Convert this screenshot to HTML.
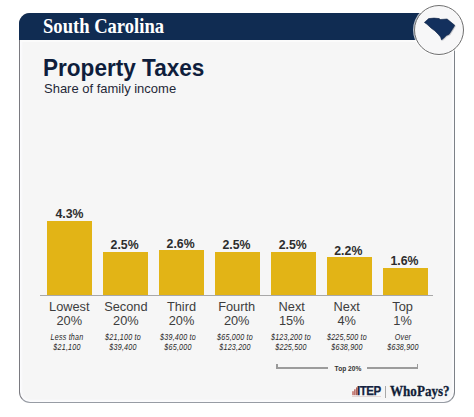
<!DOCTYPE html>
<html><head><meta charset="utf-8">
<style>
*{margin:0;padding:0;box-sizing:border-box}
html,body{width:474px;height:417px;overflow:hidden;background:#fff;font-family:"Liberation Sans",sans-serif}
#card{position:absolute;left:19px;top:13px;width:435.9px;height:390.3px;background:#f6f6f6;border-style:solid;border-color:#7a7a80 #7d8288 #979ca4 #7a7a80;border-width:1.3px 1.5px 1.8px 1.3px;border-radius:11px;box-shadow:inset 2px 0 2px #fbfbfd,inset -2px 0 2px #fbfbfd,inset 0 -2px 2px #fbfbfd}
#band{position:absolute;left:19px;top:13px;width:435.9px;height:26.6px;background:#102c52;border-radius:11px 11px 0 0}
#bandline{position:absolute;left:20.3px;top:39.6px;width:434px;height:2px;background:#fbfbfb}
#st{position:absolute;left:42.8px;top:13.6px;font-family:"Liberation Serif",serif;font-weight:bold;font-size:22px;line-height:24px;color:#fff;white-space:nowrap;transform:scaleX(0.845);transform-origin:0 0}
#title{position:absolute;left:43px;top:54px;font-weight:bold;font-size:24px;line-height:28px;color:#0f1e3c;white-space:nowrap;transform:scaleX(0.94);transform-origin:0 0}
#sub{position:absolute;left:44px;top:81px;font-size:13.4px;line-height:15px;color:#1f2838;white-space:nowrap;transform:scaleX(0.97);transform-origin:0 0}
#circle{position:absolute;left:414.1px;top:5.1px;width:50.4px;height:50.4px;border-radius:50%;background:#f7f7f8;border:1.3px solid #707070;box-shadow:0 0 0 1px rgba(255,255,255,0.7)}
.bar{position:absolute;width:45px;background:#e2b416}
.val{position:absolute;width:56px;text-align:center;font-weight:bold;font-size:12.3px;line-height:14px;color:#2d2d2d;white-space:nowrap}
.cat{position:absolute;width:56px;text-align:center;font-size:12.8px;line-height:14px;color:#3d3d3d;white-space:nowrap}
.rng{position:absolute;width:70px;text-align:center;font-style:italic;font-size:8.6px;line-height:9.8px;color:#262626;white-space:nowrap;letter-spacing:0.25px;transform:scaleX(0.83)}
#axis{position:absolute;left:40.4px;top:294.9px;width:393px;height:0.8px;background:#a8a8a8}
</style></head><body>
<div id="card"></div>
<div id="band"></div>
<div id="bandline"></div>
<div id="st">South Carolina</div>
<div id="circle"></div>
<svg style="position:absolute;left:0;top:0" width="474" height="60">
  <path d="M424.4,22.4 L428.7,18.6 L434,18.1 L439.3,18.6 L440.2,19.5 L447.1,19 L454.8,25.3 L452.4,29.3 L449.2,34.2 L446.3,35.6 L443.9,38 L441.5,39.9 L440.6,37 L438.2,34.2 L434.8,30.8 L431,27.9 L426.8,24.1 Z" transform="translate(1,1)" fill="#b0b4bb" opacity="0.7"/>
  <path d="M424.4,22.4 L428.7,18.6 L434,18.1 L439.3,18.6 L440.2,19.5 L447.1,19 L454.8,25.3 L452.4,29.3 L449.2,34.2 L446.3,35.6 L443.9,38 L441.5,39.9 L440.6,37 L438.2,34.2 L434.8,30.8 L431,27.9 L426.8,24.1 Z" fill="#13305d" stroke="#0d2145" stroke-width="0.6" stroke-linejoin="round"/>
</svg>
<div id="title">Property Taxes</div>
<div id="sub">Share of family income</div>

<div class="bar" style="left:47.2px;top:220.8px;height:74.8px"></div>
<div class="bar" style="left:103.2px;top:252.1px;height:43.5px"></div>
<div class="bar" style="left:159.2px;top:250.4px;height:45.2px"></div>
<div class="bar" style="left:215.2px;top:252.1px;height:43.5px"></div>
<div class="bar" style="left:271.2px;top:252.1px;height:43.5px"></div>
<div class="bar" style="left:327.2px;top:257.3px;height:38.3px"></div>
<div class="bar" style="left:383.2px;top:267.8px;height:27.8px"></div>

<div id="axis"></div>
<div class="val" style="left:41.50px;top:207.00px">4.3%</div>
<div class="val" style="left:96.60px;top:238.30px">2.5%</div>
<div class="val" style="left:152.60px;top:236.60px">2.6%</div>
<div class="val" style="left:208.50px;top:238.30px">2.5%</div>
<div class="val" style="left:264.70px;top:238.30px">2.5%</div>
<div class="val" style="left:320.30px;top:243.50px">2.2%</div>
<div class="val" style="left:376.40px;top:254.00px">1.6%</div>

<div class="cat" style="left:41.30px;top:300.00px">Lowest<br>20%</div>
<div class="cat" style="left:97.90px;top:300.00px">Second<br>20%</div>
<div class="cat" style="left:153.50px;top:300.00px">Third<br>20%</div>
<div class="cat" style="left:208.70px;top:300.00px">Fourth<br>20%</div>
<div class="cat" style="left:263.70px;top:300.00px">Next<br>15%</div>
<div class="cat" style="left:318.70px;top:300.00px">Next<br>4%</div>
<div class="cat" style="left:374.60px;top:300.00px">Top<br>1%</div>

<div class="rng" style="left:31.60px;top:332.9px">Less than<br>$21,100</div>
<div class="rng" style="left:87.75px;top:332.9px">$21,100 to<br>$39,400</div>
<div class="rng" style="left:143.00px;top:332.9px">$39,400 to<br>$65,000</div>
<div class="rng" style="left:199.80px;top:332.9px">$65,000 to<br>$123,200</div>
<div class="rng" style="left:255.60px;top:332.9px">$123,200 to<br>$225,500</div>
<div class="rng" style="left:311.50px;top:332.9px">$225,500 to<br>$638,900</div>
<div class="rng" style="left:367.50px;top:332.9px">Over<br>$638,900</div>

<div style="position:absolute;left:276.3px;top:366.9px;width:51.9px;height:1.7px;background:#9c9c9c"></div>
<div style="position:absolute;left:366.7px;top:366.9px;width:51px;height:1.7px;background:#9c9c9c"></div>
<div style="position:absolute;left:276.4px;top:364px;width:1.2px;height:4.6px;background:#9a9a9a"></div>
<div style="position:absolute;left:416.5px;top:364px;width:1.2px;height:4.6px;background:#9a9a9a"></div>
<div id="top20" style="position:absolute;left:322.5px;top:363.5px;width:50px;text-align:center;font-weight:bold;font-size:7.8px;line-height:9px;color:#333;white-space:nowrap;transform:scaleX(0.85)">Top 20%</div>

<svg style="position:absolute;left:350px;top:383px" width="8" height="14">
  <rect x="2.4" y="8.2" width="1.2" height="4" fill="#b0473e"/>
  <rect x="4.3" y="6.3" width="1.2" height="5.9" fill="#a5423b"/>
  <rect x="6.2" y="4.4" width="1.2" height="7.8" fill="#963c37"/>
</svg>
<div id="itep" style="position:absolute;left:357.4px;top:385.2px;font-weight:bold;font-size:12.4px;line-height:12px;color:#14223f;white-space:nowrap;letter-spacing:-0.5px;transform:scaleX(0.93);transform-origin:0 0;-webkit-text-stroke:0.25px #14223f">ITEP</div>
<div style="position:absolute;left:352px;top:396px;width:29px;height:0.7px;background:#e2d6d6"></div>
<div style="position:absolute;left:384.8px;top:386px;width:0.8px;height:11.5px;background:#a8a8a8"></div>
<div id="wp" style="position:absolute;left:389.6px;top:382.6px;font-family:'Liberation Serif',serif;font-weight:bold;font-size:15.4px;line-height:16px;color:#111e38;white-space:nowrap;transform:scaleX(0.85);transform-origin:0 0;-webkit-text-stroke:0.3px #111e38">WhoPays?</div>

</body></html>
